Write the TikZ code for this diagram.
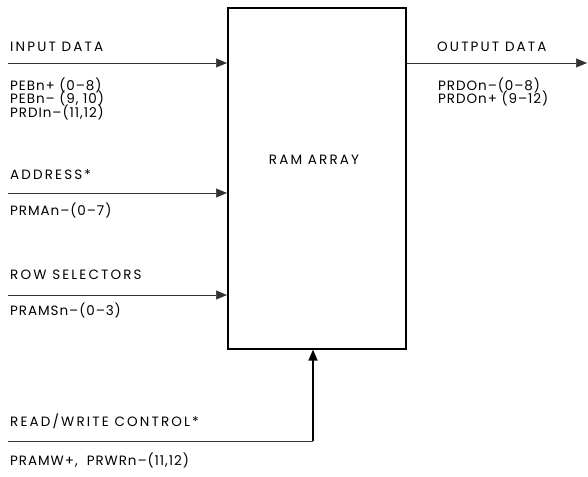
\documentclass[tikz,border=0pt]{standalone}
\usepackage{fontspec}
\setmainfont{Poppins}
\usetikzlibrary{arrows.meta}
\begin{document}
\begin{tikzpicture}[x=1pt,y=-1pt,
  lbl/.style={anchor=west,inner sep=0pt,font=\fontsize{13.5}{15}\selectfont\addfontfeature{LetterSpace=7}},
  ttl/.style={anchor=west,inner sep=0pt,font=\fontsize{13.5}{15}\selectfont\addfontfeature{LetterSpace=16}},
  sig/.style={line width=0.6pt,draw=black!80},
  arr/.style={-{Triangle[length=11pt,width=9pt]}},
  boxst/.style={draw,line width=1.6pt,inner sep=0pt}]
\useasboundingbox (0,0) rectangle (588,476);
\node[boxst,minimum width=178pt,minimum height=341pt,anchor=north west] (ram) at (227,7) {};
\node[ttl,anchor=center] (ramlbl) at (314,160) {RAM ARRAY};
% left labels
\node[ttl] (tin) at (10,47) {INPUT DATA};
\node[lbl] (l1) at (10,85) {PEBn+ (0--8)};
\node[lbl] (l2) at (10,98.5) {PEBn-- (9, 10)};
\node[lbl] (l3) at (10,112) {PRDIn--(11,12)};
\node[ttl] (tad) at (10,175) {ADDRESS*};
\node[lbl] (l4) at (10,210) {PRMAn--(0--7)};
\node[ttl] (trs) at (10,275) {ROW SELECTORS};
\node[lbl] (l5) at (10,310) {PRAMSn--(0--3)};
\node[ttl] (trw) at (10,421) {READ/WRITE CONTROL*};
\node[lbl] (l6) at (10,460) {PRAMW+,~ PRWRn--(11,12)};
% right labels
\node[ttl] (tout) at (437,47) {OUTPUT DATA};
\node[lbl] (r1) at (438,85) {PRDOn--(0--8)};
\node[lbl] (r2) at (438,98.5) {PRDOn+ (9--12)};
% connectors
\coordinate (inS) at (8,63);
\coordinate (adS) at (8,193);
\coordinate (rsS) at (8,295);
\coordinate (rwS) at (8,441);
\coordinate (outE) at (587,63);
\coordinate (rwX) at (313,441);
\draw[sig,arr] (inS) -- (inS -| ram.west);
\draw[sig,arr] (adS) -- (adS -| ram.west);
\draw[sig,arr] (rsS) -- (rsS -| ram.west);
\draw[sig,arr] (outE -| ram.east) -- (outE);
\draw[sig] (rwS) -- (rwX);
\draw[line width=1.6pt,arr] (rwX) -- (rwX |- ram.south);
\end{tikzpicture}
\end{document}
